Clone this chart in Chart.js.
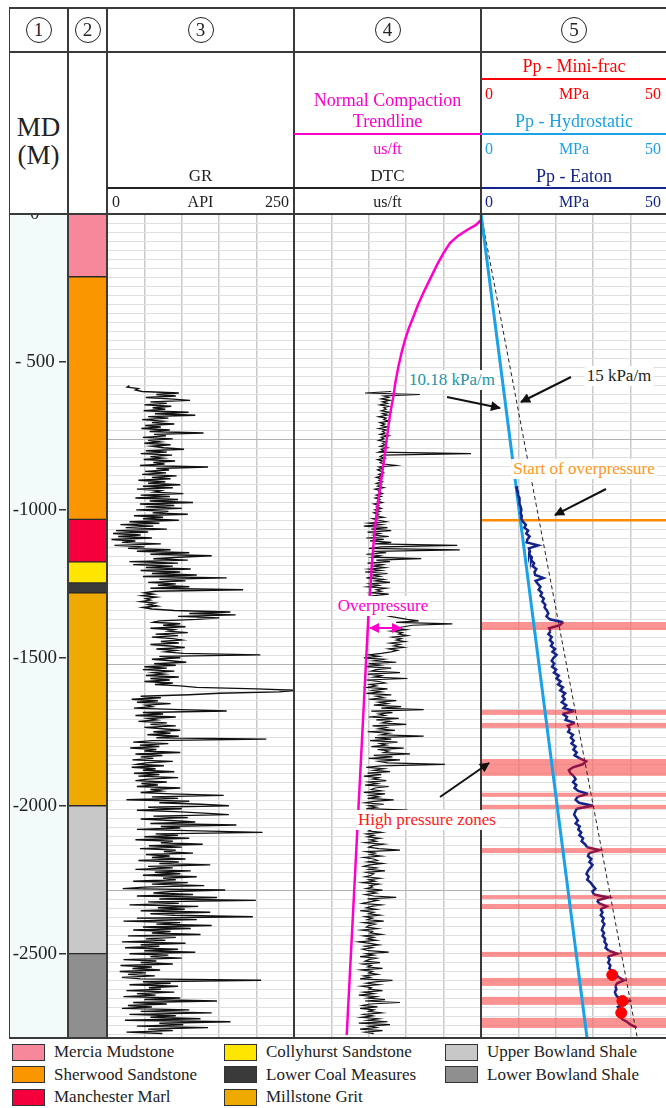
<!DOCTYPE html>
<html>
<head>
<meta charset="utf-8">
<script src="https://cdn.jsdelivr.net/npm/chart.js@4.4.1/dist/chart.umd.min.js"></script>
<style>
  html, body { margin: 0; padding: 0; background: #fff; overflow: hidden; }
  #page { position: relative; width: 666px; height: 1108px; overflow: hidden; font-family: "Liberation Serif", "Times New Roman", serif; color: #222; }
  canvas { position: absolute; z-index: 1; }
  .ln { position: absolute; z-index: 2; }
  .txt { position: absolute; white-space: nowrap; z-index: 3; }
  .note { background: #fff; padding: 0 2px; z-index: 4; }
  .circ { position: absolute; width: 26px; height: 26px; border: 1px solid #222; border-radius: 50%; box-sizing: border-box; text-align: center; line-height: 24px; font-size: 19px; z-index: 3; }
  .leg { position: absolute; height: 18px; line-height: 18px; font-size: 17px; display: flex; align-items: center; white-space: nowrap; }
  .sw { display: inline-block; width: 33px; height: 17px; border: 1.5px solid #333; box-sizing: border-box; margin-right: 9px; }
  #md { position: absolute; left: 9px; top: 214px; width: 59px; height: 824px; background: #f2fbfa; }
  svg { position: absolute; left: 0; top: 0; z-index: 5; }
</style>
</head>
<body>
<div id="page">
  <div id="md"></div>
  <canvas id="cDepth" width="59" height="824" style="left:9px;top:214px"></canvas>
  <canvas id="cForm" width="39" height="824" style="left:68px;top:214px"></canvas>
  <canvas id="cGR" width="187" height="824" style="left:107px;top:214px"></canvas>
  <canvas id="cDTC" width="187" height="824" style="left:294px;top:214px"></canvas>
  <canvas id="cPP" width="187" height="824" style="left:481px;top:214px"></canvas>
  <svg width="666" height="1108">
    <defs>
      <marker id="ah" viewBox="0 0 10 10" refX="9" refY="5" markerWidth="6" markerHeight="5" orient="auto-start-reverse">
        <path d="M0,0 L10,5 L0,10 z" fill="#111"/>
      </marker>
      <marker id="am" viewBox="0 0 10 10" refX="9" refY="5" markerWidth="5" markerHeight="5" orient="auto-start-reverse">
        <path d="M0,0 L10,5 L0,10 z" fill="#ff00cc"/>
      </marker>
    </defs>
    <line x1="447" y1="397" x2="500" y2="408" stroke="#111" stroke-width="2" marker-end="url(#ah)"/>
    <line x1="571" y1="377" x2="521" y2="402" stroke="#111" stroke-width="2" marker-end="url(#ah)"/>
    <line x1="606" y1="489" x2="555" y2="515" stroke="#111" stroke-width="2" marker-end="url(#ah)"/>
    <line x1="440" y1="797" x2="489" y2="763" stroke="#111" stroke-width="2" marker-end="url(#ah)"/>
    <line x1="370" y1="628" x2="401" y2="628" stroke="#ff00cc" stroke-width="2" marker-start="url(#am)" marker-end="url(#am)"/>
  </svg>
</div>
<script>
// depth range of the log (MD, metres)
const depthMax = 2785;
const depthTicks = [0, 500, 1000, 1500, 2000, 2500];

// formations (track 2 + legend)
const formNames = ["Mercia Mudstone", "Sherwood Sandstone", "Manchester Marl", "Collyhurst Sandstone",
  "Lower Coal Measures", "Millstone Grit", "Upper Bowland Shale", "Lower Bowland Shale"];
const formTop = [0, 212, 1032, 1176, 1247, 1280, 2000, 2500];
const formBase = [212, 1032, 1176, 1247, 1280, 2000, 2500, 2785];
const formColors = ["#f7889b", "#fa9600", "#f5003c", "#ffe600", "#3a3a3a", "#eeaa00", "#c8c8c8", "#8f8f8f"];

// GR (API), sampled every 5 m from 580 m
const grTop = 580, grStep = 5;
const grValues = [
  30, 27, 42, 38, 47, 96, 66, 92, 52, 84, 111, 58, 80, 50, 86, 61, 78, 49, 109, 64,
  118, 55, 82, 47, 75, 60, 90, 51, 72, 46, 84, 57, 129, 63, 79, 48, 88, 55, 71, 50,
  85, 60, 76, 103, 52, 80, 45, 87, 58, 74, 49, 91, 62, 77, 44, 135, 66, 83, 51, 79,
  47, 93, 60, 85, 42, 78, 55, 98, 48, 88, 40, 72, 63, 102, 45, 84, 38, 95, 57, 115,
  44, 90, 52, 100, 39, 82, 61, 108, 36, 75, 48, 96, 30, 70, 18, 62, 25, 80, 12, 55,
  8, 45, 15, 60, 6, 38, 20, 72, 10, 50, 28, 85, 40, 110, 58, 140, 96, 62, 108, 30,
  95, 35, 88, 52, 112, 45, 98, 60, 120, 48, 160, 70, 105, 55, 92, 68, 110, 58, 182, 64,
  50, 62, 47, 66, 52, 58, 45, 64, 55, 67, 48, 60, 90, 165, 110, 172, 95, 150, 120, 70,
  62, 98, 75, 105, 58, 90, 82, 108, 65, 95, 60, 88, 100, 72, 96, 58, 84, 104, 66, 92,
  78, 102, 205, 70, 98, 60, 85, 106, 63, 92, 50, 80, 48, 90, 62, 76, 52, 96, 58, 84,
  50, 88, 64, 98, 120, 200, 252, 230, 150, 110, 45, 72, 33, 68, 40, 85, 52, 60, 36, 98,
  160, 48, 75, 38, 92, 55, 66, 42, 80, 58, 92, 50, 74, 98, 62, 85, 54, 96, 66, 213,
  60, 35, 82, 44, 70, 31, 66, 50, 98, 38, 74, 45, 62, 34, 88, 52, 40, 76, 33, 65,
  48, 90, 36, 70, 42, 95, 55, 38, 80, 46, 68, 40, 98, 58, 72, 45, 86, 156, 60, 95,
  26, 110, 70, 125, 163, 55, 100, 40, 92, 130, 163, 62, 108, 45, 85, 118, 58, 173, 72, 98,
  40, 122, 208, 65, 95, 50, 110, 38, 88, 72, 128, 56, 100, 44, 92, 76, 115, 52, 84, 60,
  105, 42, 96, 70, 138, 55, 88, 38, 112, 64, 98, 48, 120, 75, 92, 35, 108, 60, 130, 50,
  21, 158, 85, 62, 115, 40, 147, 70, 199, 55, 96, 30, 122, 68, 104, 45, 138, 58, 90, 195,
  40, 120, 22, 98, 66, 140, 48, 112, 35, 85, 60, 125, 28, 92, 52, 78, 20, 105, 45, 70,
  24, 95, 50, 118, 30, 82, 58, 100, 22, 66, 45, 88, 18, 60, 34, 71, 17, 52, 28, 64,
  20, 45, 206, 48, 85, 30, 95, 56, 72, 26, 90, 40, 65, 22, 98, 50, 147, 35, 80, 28,
  60, 20, 110, 45, 140, 30, 92, 58, 125, 24, 165, 70, 102, 40, 135, 55, 88, 26, 74
];

// DTC (us/ft), sampled every 5 m from 600 m
const dtcTop = 600, dtcStep = 5;
const dtcValues = [
  118, 97, 141, 112, 116, 110, 117, 111, 115, 109, 116, 112, 114, 110, 117, 111, 115, 108, 114, 112,
  116, 109, 113, 110, 115, 108, 114, 111, 113, 109, 116, 110, 112, 108, 114, 111, 113, 109, 115, 110,
  112, 108, 182, 111, 109, 113, 107, 111, 109, 112, 122, 108, 111, 107, 110, 112, 108, 111, 106, 110,
  108, 111, 106, 110, 107, 112, 105, 109, 108, 111, 106, 110, 105, 109, 107, 111, 104, 108, 106, 110,
  105, 109, 104, 108, 106, 112, 103, 108, 114, 100, 110, 96, 115, 102, 118, 99, 109, 104, 116, 98,
  112, 101, 118, 105, 171, 110, 100, 173, 104, 114, 98, 109, 103, 142, 106, 117, 99, 111, 104, 113,
  100, 110, 97, 115, 103, 109, 98, 112, 105, 117, 101, 108, 99, 114, 106, 110, 102, 116, 104, 109,
  112, 106, 118, 108, 114, 110, 120, 109, 116, 111, 119, 112, 117, 124, 131, 140, 122, 167, 135, 128,
  121, 130, 118, 127, 124, 131, 119, 126, 122, 129, 117, 125, 120, 128, 116, 123, 118, 110, 100, 108,
  96, 112, 104, 122, 100, 109, 97, 118, 106, 102, 125, 99, 110, 104, 131, 98, 108, 113, 101, 106,
  99, 115, 103, 110, 98, 118, 106, 112, 100, 122, 108, 115, 104, 126, 110, 144, 102, 119, 108, 113,
  100, 124, 106, 117, 111, 130, 103, 114, 108, 121, 99, 116, 110, 144, 105, 118, 101, 123, 109, 114,
  102, 128, 107, 116, 112, 133, 104, 119, 100, 125, 108, 115, 161, 110, 98, 112, 104, 117, 99, 110,
  96, 108, 103, 114, 100, 107, 97, 116, 105, 102, 110, 96, 113, 101, 108, 99, 120, 104, 97, 112,
  100, 106, 98, 131, 103, 109, 97, 111, 102, 106, 99, 113, 101, 105, 96, 108, 103, 100, 110, 98,
  104, 99, 109, 101, 106, 97, 112, 103, 100, 108, 125, 98, 105, 101, 110, 96, 104, 107, 99, 111,
  101, 96, 106, 100, 113, 98, 104, 102, 97, 109, 100, 105, 95, 108, 101, 103, 98, 111, 100, 106,
  97, 104, 122, 99, 107, 101, 95, 110, 102, 98, 106, 93, 104, 100, 109, 97, 103, 99, 112, 96,
  105, 100, 98, 107, 94, 103, 101, 110, 96, 104, 99, 106, 92, 101, 108, 97, 103, 95, 100, 116,
  98, 104, 93, 106, 100, 97, 109, 95, 102, 99, 111, 94, 103, 100, 107, 96, 101, 93, 119, 105,
  98, 108, 94, 102, 100, 111, 96, 104, 92, 106, 99, 113, 97, 125, 101, 95, 107, 93, 104, 100,
  110, 96, 103, 94, 108, 99, 115, 92, 117, 100, 106, 93, 111, 97, 104
];

// normal compaction trendline (depth m, us/ft)
const trendDepth = [0, 20, 37, 54, 74, 98, 132, 172, 220, 267, 307, 348, 385, 426, 470, 517, 568, 619, 669, 720,
  808, 889, 967, 1058, 1125, 1193, 1281, 1365, 2775];
const trendDtc = [190, 190, 186, 178.8, 171.5, 165.1, 159.9, 154.7, 149.1, 143.7, 139.5, 135.7, 132.2, 129.0, 126.2, 123.7, 121.4, 119.6, 117.4, 115.6,
  113.0, 110.3, 107.6, 105.0, 103.6, 102.3, 101.0, 99.6, 82.3];

// pore pressure, Eaton (MPa), every 10 m from 920 m
const eatonTop = 920, eatonStep = 10;
const eatonValues = [
  9.4, 9.6, 9.9, 9.9, 10.3, 10.4, 10.2, 10.6, 10.8, 10.6, 10.9, 10.8,
  11.2, 12.0, 11.6, 12.6, 12.1, 13.0, 12.4, 12.2, 15.3, 12.8,
  13.1, 12.9, 13.6, 13.4, 14.2, 13.8, 14.8, 14.3, 14.5, 16.7,
  14.6, 15.2, 15.9, 15.4, 16.3, 15.9, 16.8, 16.4, 17.2, 17.0,
  17.6, 18.0, 17.5, 18.4, 22.0, 21.0, 18.2, 18.6, 18.0, 18.9,
  18.4, 19.2, 18.7, 19.8, 19.1, 20.2, 19.4, 18.9, 19.6, 19.0,
  20.1, 19.5, 20.8, 20.2, 21.3, 20.6, 21.9, 21.2, 22.5, 21.8,
  22.4, 21.6, 22.8, 22.1, 24.9, 21.8, 23.0, 22.6, 25.1, 23.2,
  23.8, 23.3, 24.6, 24.0, 24.8, 24.2, 25.3, 24.7, 25.6, 25.0,
  26.4, 28.1, 27.2, 24.6, 23.5, 23.9, 24.8, 25.3, 24.6, 25.5,
  25.0, 26.0, 28.6, 25.8, 25.3, 26.2, 29.9, 25.6, 25.2, 24.9,
  25.4, 25.9, 25.3, 26.4, 26.0, 26.8, 26.3, 27.3, 26.9, 27.8,
  28.4, 31.6, 28.9, 28.6, 29.5, 29.0, 29.8, 29.2, 28.6, 28.2,
  28.8, 28.4, 29.3, 29.9, 30.6, 29.8, 30.2, 34.0, 31.0, 31.6,
  33.6, 31.9, 32.5, 32.0, 32.8, 32.4, 33.0, 32.6, 32.3, 32.9,
  32.5, 33.2, 33.0, 33.6, 33.3, 34.2, 36.4, 33.9, 34.4, 34.0,
  34.6, 34.3, 35.2, 35.8, 36.9, 38.2, 36.4, 35.9, 36.2, 35.8,
  36.1, 36.8, 39.6, 38.0, 36.6, 37.2, 36.9, 37.8, 37.5, 39.0,
  40.0, 41.6
];

// hydrostatic (10.18 kPa/m) and 15 kPa/m reference lines
const hydroDepth = [0, 2785], hydroMPa = [0, 28.35];
const refDepth = [0, 2785], refMPa = [0, 41.8];
const overpressureTop = 1035;

// mini-frac pore pressure
const miniDepth = [2572, 2660, 2700];
const miniMPa = [35.1, 37.8, 37.5];

// high pressure zones (m)
const zoneTop = [1379, 1676, 1720, 1842, 1956, 1997, 2143, 2302, 2332, 2494, 2582, 2646, 2717];
const zoneBase = [1406, 1693, 1737, 1899, 1970, 2011, 2160, 2315, 2349, 2511, 2609, 2673, 2751];

const MAGENTA = "#ff00cc", RED = "#ff0000", BLUE = "#1aa1e6", NAVY = "#13238a", MAROON = "#8e1448";
const page = document.getElementById("page");

function pts(xs, ys) { return xs.map((v, i) => ({ x: v, y: ys[i] })); }
function sampled(vals, top, step) { return vals.map((v, i) => ({ x: v, y: top + i * step })); }
function inZone(d) { return zoneTop.some((t, i) => d >= t && d <= zoneBase[i]); }

function depthGrid(scale) {
  const t = [];
  for (let i = 0; i * 30.48 <= depthMax; i++) t.push({ value: i * 30.48 }); // 100 ft lines
  scale.ticks = t;
}

function trackChart(id, xMin, xMax, datasets, plugins) {
  return new Chart(document.getElementById(id), {
    type: "scatter",
    data: { datasets: datasets },
    options: {
      responsive: false, animation: false, events: [],
      layout: { padding: 0, autoPadding: false },
      plugins: { legend: { display: false }, tooltip: { enabled: false } },
      scales: {
        x: {
          type: "linear", min: xMin, max: xMax,
          afterFit: s => { s.height = 0; },
          ticks: { display: false, stepSize: (xMax - xMin) / 5 },
          grid: { color: "#cacaca", lineWidth: 1.5, drawTicks: false },
          border: { display: false }
        },
        y: {
          type: "linear", min: 0, max: depthMax, reverse: true,
          afterFit: s => { s.width = 0; },
          afterBuildTicks: depthGrid,
          ticks: { display: false, autoSkip: false },
          grid: { drawTicks: false, lineWidth: 1, color: c => (c.index % 25 === 0 ? "#b2b2b2" : "#dfdfdf") },
          border: { display: false }
        }
      }
    },
    plugins: plugins || []
  });
}

// track 1: depth axis
new Chart(document.getElementById("cDepth"), {
  type: "scatter",
  data: { datasets: [] },
  options: {
    responsive: false, animation: false, events: [],
    layout: { padding: 0, autoPadding: false },
    plugins: { legend: { display: false }, tooltip: { enabled: false } },
    scales: {
      x: { display: false, min: 0, max: 1 },
      y: {
        min: 0, max: depthMax, reverse: true, position: "left",
        afterFit: s => { s.width = 57; s.paddingTop = 0; s.paddingBottom = 0; },
        afterBuildTicks: s => { s.ticks = depthTicks.map(v => ({ value: v })); },
        ticks: {
          autoSkip: false, crossAlign: "center", padding: 2, color: "#222",
          font: { family: "Liberation Serif", size: 19 },
          callback: v => (v === 0 ? "0" : v < 1000 ? "- " + v : "-" + v)
        },
        grid: { drawOnChartArea: false, drawTicks: true, tickLength: 7, color: "#333", lineWidth: 1.5 },
        border: { display: false }
      }
    }
  }
});

// track 2: formations
new Chart(document.getElementById("cForm"), {
  type: "bar",
  data: {
    labels: ["unit"],
    datasets: formNames.map((n, i) => ({
      label: n, data: [[formTop[i], formBase[i]]],
      backgroundColor: formColors[i], borderColor: "#2a2a2a", borderWidth: 1, borderSkipped: false,
      grouped: false, barPercentage: 1, categoryPercentage: 1
    }))
  },
  options: {
    responsive: false, animation: false, events: [],
    layout: { padding: 0 },
    plugins: { legend: { display: false }, tooltip: { enabled: false } },
    scales: {
      x: { display: false },
      y: { display: false, min: 0, max: depthMax, reverse: true }
    }
  }
});

// track 3: GR
trackChart("cGR", 0, 250, [{
  data: sampled(grValues, grTop, grStep), showLine: true, pointRadius: 0, borderColor: "#111", borderWidth: 1.4
}]);

// track 4: DTC and trendline
trackChart("cDTC", 40, 190, [
  { data: pts(trendDtc, trendDepth), showLine: true, pointRadius: 0, borderColor: MAGENTA, borderWidth: 2.5, order: 1 },
  { data: sampled(dtcValues, dtcTop, dtcStep), showLine: true, pointRadius: 0, borderColor: "#111", borderWidth: 1.2, order: 2 }
]);

// track 5: pore pressure
const bandPlugin = {
  id: "bands",
  beforeDatasetsDraw(chart) {
    const { ctx, chartArea, scales: { y } } = chart;
    ctx.save();
    ctx.fillStyle = "rgba(250,105,105,0.72)";
    zoneTop.forEach((t, i) => {
      const y0 = y.getPixelForValue(t), y1 = y.getPixelForValue(zoneBase[i]);
      ctx.fillRect(chartArea.left, y0, chartArea.width, y1 - y0);
    });
    ctx.restore();
  }
};
trackChart("cPP", 0, 50, [
  { data: pts(miniMPa, miniDepth), pointRadius: 5.5, pointBackgroundColor: RED, pointBorderColor: RED, order: 0 },
  {
    data: sampled(eatonValues, eatonTop, eatonStep), showLine: true, pointRadius: 0, borderColor: NAVY, borderWidth: 2.5, order: 1,
    segment: { borderColor: c => (inZone((c.p0.parsed.y + c.p1.parsed.y) / 2) ? MAROON : NAVY) }
  },
  { data: pts(hydroMPa, hydroDepth), showLine: true, pointRadius: 0, borderColor: BLUE, borderWidth: 3, order: 2 },
  { data: pts(refMPa, refDepth), showLine: true, pointRadius: 0, borderColor: "#222", borderWidth: 1, borderDash: [4, 3], order: 3 },
  { data: pts([0, 50], [overpressureTop, overpressureTop]), showLine: true, pointRadius: 0, borderColor: "#ff8c00", borderWidth: 2.5, order: 4 }
], [bandPlugin]);

// ---- header, frame, texts ----
function put(text, x, y, size, color, align) {
  const d = document.createElement("div");
  d.className = "txt";
  d.textContent = text;
  d.style.fontSize = size + "px";
  d.style.lineHeight = Math.round(size * 1.2) + "px";
  d.style.color = color || "#222";
  d.style.left = x + "px";
  d.style.top = (y - Math.round(size * 1.2) / 2) + "px";
  d.style.transform = align === "left" ? "none" : align === "right" ? "translateX(-100%)" : "translateX(-50%)";
  page.appendChild(d);
  return d;
}
function hline(x1, x2, y, w, color) {
  const d = document.createElement("div");
  d.className = "ln";
  d.style.cssText += `left:${x1}px;top:${y - w / 2}px;width:${x2 - x1}px;height:${w}px;background:${color};`;
  page.appendChild(d);
}
function vline(x, y1, y2, w, color) {
  const d = document.createElement("div");
  d.className = "ln";
  d.style.cssText += `left:${x - w / 2}px;top:${y1}px;width:${w}px;height:${y2 - y1}px;background:${color};`;
  page.appendChild(d);
}

const FRAME = "#3a3a3a";
[8, 52, 214, 1038].forEach(y => hline(9, 668, y, 1.5, FRAME));
[9.5, 68, 107, 294, 481].forEach(x => vline(x, 8, 1038, 1.5, FRAME));
hline(107, 481, 188, 1.5, "#222");
hline(294, 481, 134, 2.5, MAGENTA);
hline(481, 668, 79, 2.5, RED);
hline(481, 668, 134, 2.5, BLUE);
hline(481, 668, 188, 2.5, NAVY);

[38.5, 87.5, 200.5, 387.5, 574].forEach((cx, i) => {
  const c = document.createElement("div");
  c.className = "circ";
  c.textContent = String(i + 1);
  c.style.left = (cx - 13) + "px";
  c.style.top = "17px";
  page.appendChild(c);
});

put("MD", 38.5, 127, 27);
put("(M)", 38.5, 155, 27);
put("GR", 200.5, 176, 17);
put("0", 112, 201, 16, "#222", "left");
put("API", 200.5, 201, 16);
put("250", 289, 201, 16, "#222", "right");

put("Normal Compaction", 387.5, 100, 18, MAGENTA);
put("Trendline", 387.5, 121, 18, MAGENTA);
put("us/ft", 387.5, 148, 16, MAGENTA);
put("DTC", 387.5, 176, 17);
put("us/ft", 387.5, 201, 16);

[[66, 93, "Pp - Mini-frac", RED], [121, 148, "Pp - Hydrostatic", BLUE], [176, 201, "Pp - Eaton", NAVY]].forEach(r => {
  put(r[2], 574, r[0], 18, r[3]);
  put("0", 485, r[1], 16, r[3], "left");
  put("MPa", 574, r[1], 16, r[3]);
  put("50", 661, r[1], 16, r[3], "right");
});

// annotations
put("10.18 kPa/m", 452, 380, 17, "#1a94a8").classList.add("note");
put("15 kPa/m", 619, 376, 17, "#222").classList.add("note");
put("Start of overpressure", 584, 469, 17, "#ff961e").classList.add("note");
put("Overpressure", 383, 606, 17, MAGENTA).classList.add("note");
put("High pressure zones", 427, 820, 17, "#ff1a1a").classList.add("note");

// legend
const legendX = [12, 224, 445];
formNames.forEach((n, i) => {
  const item = document.createElement("div");
  item.className = "leg";
  item.style.left = legendX[Math.floor(i / 3)] + "px";
  item.style.top = (1043 + (i % 3) * 22.5) + "px";
  item.innerHTML = `<span class="sw" style="background:${formColors[i]}"></span>${n}`;
  page.appendChild(item);
});
</script>
</body>
</html>
